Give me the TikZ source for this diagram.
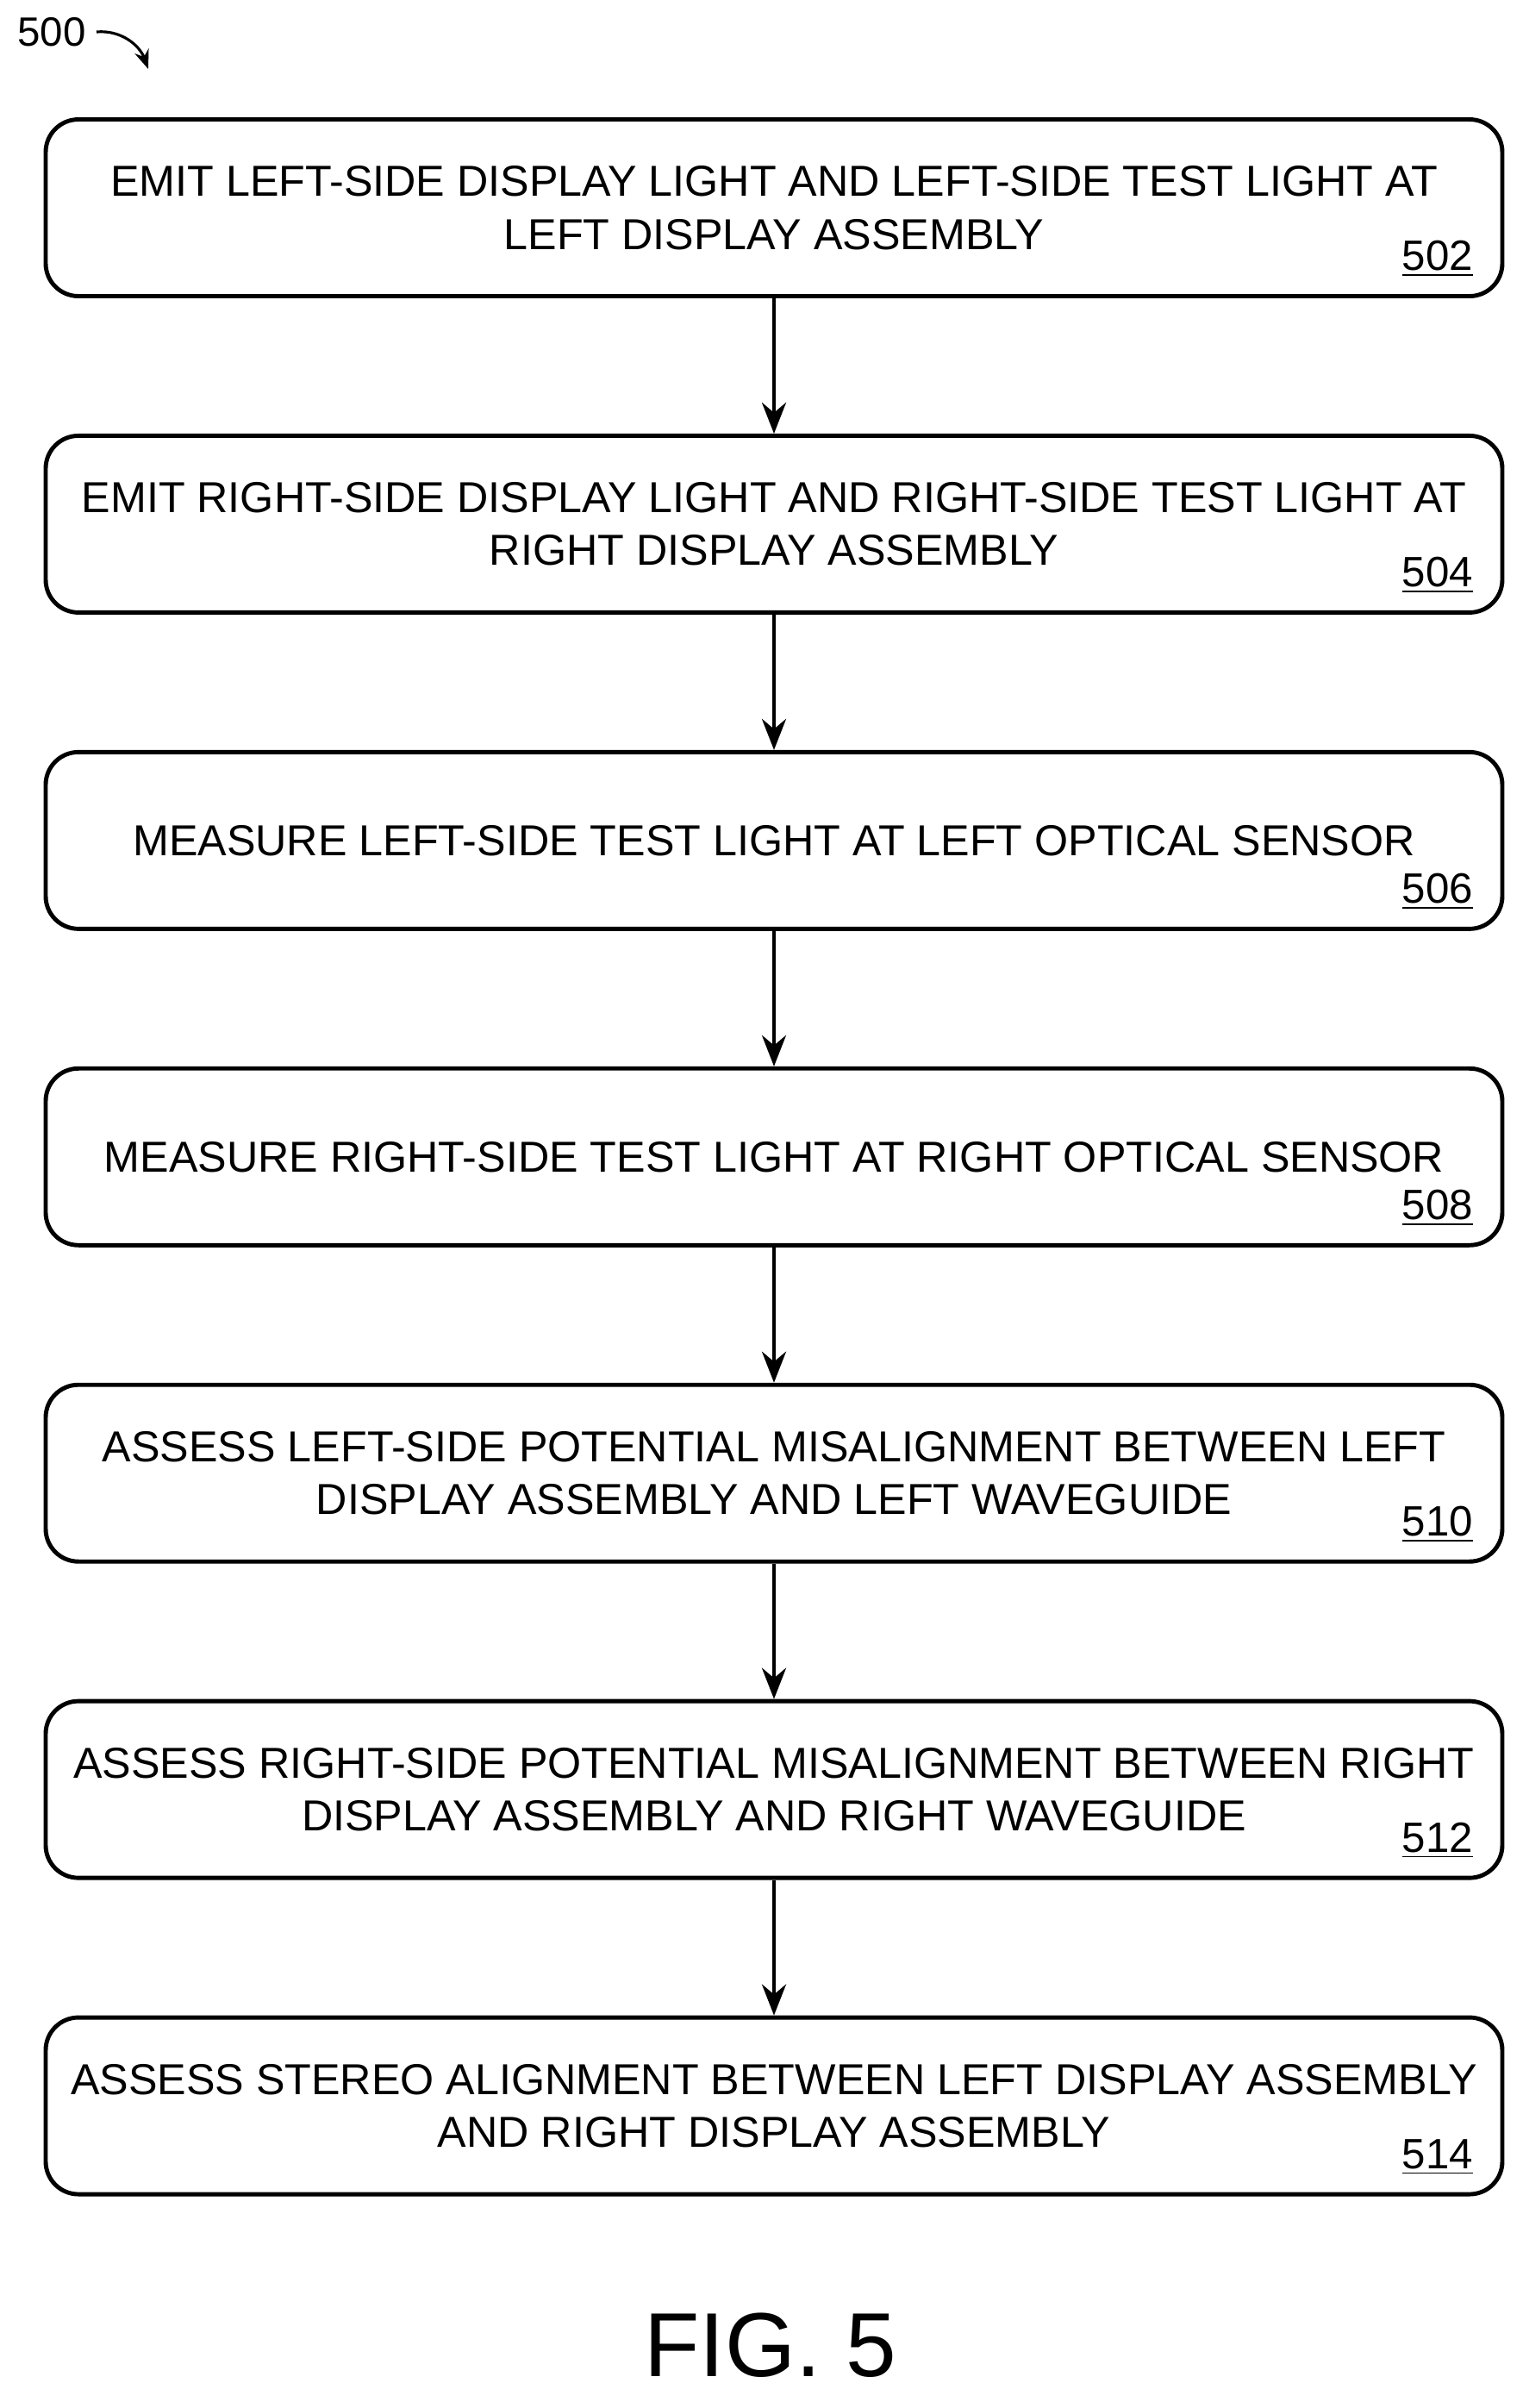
\documentclass[tikz,border=0pt]{standalone}
\usepackage{fontspec}
\setmainfont{Liberation Sans}
\usetikzlibrary{positioning,calc,arrows.meta}

\tikzset{
    stepbox/.style={draw, line width=1.4pt, rounded corners=0.38cm,
        minimum width=16.9cm, minimum height=2.05cm, align=center,
        font=\fontsize{14.3}{17.5}\selectfont},
    flow/.style={-{Stealth[length=0.36cm,width=0.28cm]}, line width=1.3pt},
    refnum/.style={anchor=south east, inner sep=0pt, font=\fontsize{14}{15}\selectfont}
}

\begin{document}
\begin{tikzpicture}[node distance=1.57cm]
    \useasboundingbox (0,0) rectangle (17.67,-27.93);

    \node[stepbox] (s1) at (8.98,-2.41) {EMIT LEFT-SIDE DISPLAY LIGHT AND LEFT-SIDE TEST LIGHT AT\\LEFT DISPLAY ASSEMBLY};
    \node[stepbox, below=of s1] (s2) {EMIT RIGHT-SIDE DISPLAY LIGHT AND RIGHT-SIDE TEST LIGHT AT\\RIGHT DISPLAY ASSEMBLY};
    \node[stepbox, below=of s2] (s3) {MEASURE LEFT-SIDE TEST LIGHT AT LEFT OPTICAL SENSOR};
    \node[stepbox, below=of s3] (s4) {MEASURE RIGHT-SIDE TEST LIGHT AT RIGHT OPTICAL SENSOR};
    \node[stepbox, below=of s4] (s5) {ASSESS LEFT-SIDE POTENTIAL MISALIGNMENT BETWEEN LEFT\\DISPLAY ASSEMBLY AND LEFT WAVEGUIDE};
    \node[stepbox, below=of s5] (s6) {ASSESS RIGHT-SIDE POTENTIAL MISALIGNMENT BETWEEN RIGHT\\DISPLAY ASSEMBLY AND RIGHT WAVEGUIDE};
    \node[stepbox, below=of s6] (s7) {ASSESS STEREO ALIGNMENT BETWEEN LEFT DISPLAY ASSEMBLY\\AND RIGHT DISPLAY ASSEMBLY};

    % reference numerals
    \foreach \i/\n in {1/502,2/504,3/506,4/508,5/510,6/512,7/514} {
        \node[refnum] (n\i) at ($(s\i.south east)+(-0.36,0.24)$) {\underline{\n}};
    }

    \foreach \i/\j in {1/2,2/3,3/4,4/5,5/6,6/7} {
        \draw[flow] (s\i) -- (s\j);
    }

    \node[font=\fontsize{13.5}{15}\selectfont] (fig) at (0.6,-0.37) {500};
    \coordinate (figtip) at (1.72,-0.8);
    \draw[-{Stealth[length=0.22cm,width=0.17cm]}, line width=0.9pt] (fig.east) to[out=5,in=110] (figtip);

    \node[font=\fontsize{30}{34}\selectfont] (cap) at (8.94,-27.2) {FIG. 5};
\end{tikzpicture}
\end{document}
